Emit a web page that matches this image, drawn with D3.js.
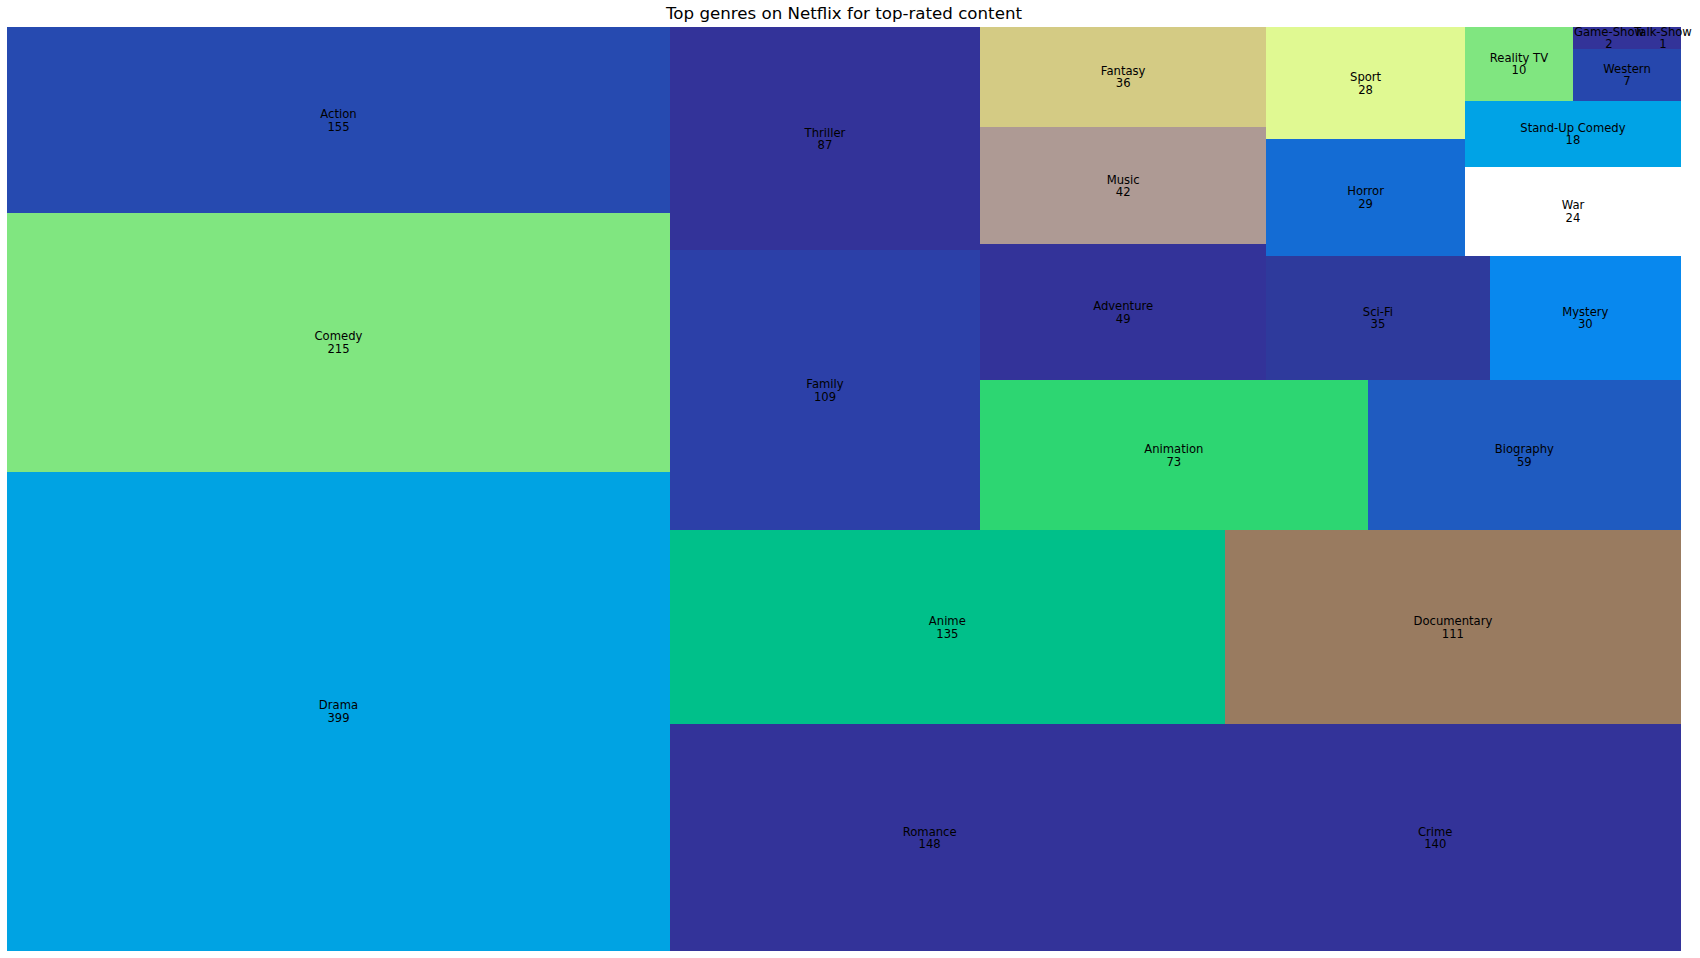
<!DOCTYPE html>
<html>
<head>
<meta charset="utf-8">
<script src="https://cdn.jsdelivr.net/npm/d3@7"></script>
<style>
  html, body { margin: 0; padding: 0; background: #fff; }
  svg { display: block; }
</style>
</head>
<body>
<svg id="chart" width="1700" height="958"></svg>
<script>
// ---- data ----
const genres = ["Drama", "Comedy", "Action", "Romance", "Crime", "Anime", "Documentary", "Family",
  "Thriller", "Animation", "Biography", "Adventure", "Music", "Fantasy", "Sci-Fi", "Mystery",
  "Horror", "Sport", "War", "Stand-Up Comedy", "Reality TV", "Western", "Game-Show", "Talk-Show"];
const counts = [399, 215, 155, 148, 140, 135, 111, 109, 87, 73, 59, 49, 42, 36, 35, 30, 29, 28, 24, 18, 10, 7, 2, 1];
const palette = ["#00a3e3", "#80e680", "#264ab0", "#333399", "#333399", "#00c08a", "#997b60", "#2c40a8",
  "#333399", "#2dd672", "#1f5bc0", "#333399", "#ae9a94", "#d4cb84", "#2e3a9c", "#0888ee",
  "#146cd4", "#e0f992", "#ffffff", "#00a3e6", "#80e680", "#2647ad", "#333399", "#333399"];
const chartTitle = "Top genres on Netflix for top-rated content";

// ---- squarify (same algorithm as python squarify) ----
function layoutrow(sizes, x, y, dx, dy) {
  const w = d3.sum(sizes) / dy; const r = [];
  for (const s of sizes) { r.push({x: x, y: y, dx: w, dy: s / w}); y += s / w; }
  return r;
}
function layoutcol(sizes, x, y, dx, dy) {
  const h = d3.sum(sizes) / dx; const r = [];
  for (const s of sizes) { r.push({x: x, y: y, dx: s / h, dy: h}); x += s / h; }
  return r;
}
function layoutRect(sizes, x, y, dx, dy) { return dx >= dy ? layoutrow(sizes, x, y, dx, dy) : layoutcol(sizes, x, y, dx, dy); }
function leftoverRect(sizes, x, y, dx, dy) {
  const a = d3.sum(sizes);
  if (dx >= dy) { const w = a / dy; return [x + w, y, dx - w, dy]; }
  const h = a / dx; return [x, y + h, dx, dy - h];
}
function worstRatio(sizes, x, y, dx, dy) {
  return d3.max(layoutRect(sizes, x, y, dx, dy), r => Math.max(r.dx / r.dy, r.dy / r.dx));
}
function squarify(sizes, x, y, dx, dy) {
  if (sizes.length === 0) return [];
  if (sizes.length === 1) return layoutRect(sizes, x, y, dx, dy);
  let i = 1;
  while (i < sizes.length && worstRatio(sizes.slice(0, i), x, y, dx, dy) >= worstRatio(sizes.slice(0, i + 1), x, y, dx, dy)) i++;
  const cur = sizes.slice(0, i), rem = sizes.slice(i);
  const [lx, ly, ldx, ldy] = leftoverRect(cur, x, y, dx, dy);
  return layoutRect(cur, x, y, dx, dy).concat(squarify(rem, lx, ly, ldx, ldy));
}

const totalCount = d3.sum(counts);
const normSizes = counts.map(c => c * 100 * 100 / totalCount);
const cells = squarify(normSizes, 0, 0, 100, 100);

// ---- scales ----
const plotLeft = 7, plotRight = 1681, plotTop = 27, plotBottom = 951;
const xS = d3.scaleLinear().domain([0, 100]).range([plotLeft, plotRight]);
const yS = d3.scaleLinear().domain([0, 100]).range([plotBottom, plotTop]);

const svg = d3.select("#chart");
const g = svg.append("g");

g.selectAll("rect.cell").data(cells).join("rect")
  .attr("class", "cell")
  .attr("x", d => xS(d.x))
  .attr("y", d => yS(d.y + d.dy))
  .attr("width", d => xS(d.x + d.dx) - xS(d.x))
  .attr("height", d => yS(d.y) - yS(d.y + d.dy))
  .attr("fill", (d, i) => palette[i])
  .attr("shape-rendering", "crispEdges");

const lbl = g.selectAll("text.lbl").data(cells).join("text")
  .attr("class", "lbl")
  .attr("text-anchor", "middle")
  .attr("font-family", "DejaVu Sans")
  .attr("font-size", "11.6px")
  .attr("fill", "#000")
  .attr("transform", d => `translate(${xS(d.x + d.dx / 2)},${yS(d.y + d.dy / 2)})`);
lbl.append("tspan").attr("x", 0).attr("y", -2).text((d, i) => genres[i]);
lbl.append("tspan").attr("x", 0).attr("y", 10.4).text((d, i) => counts[i]);

svg.append("text")
  .attr("x", (plotLeft + plotRight) / 2)
  .attr("y", 19)
  .attr("text-anchor", "middle")
  .attr("font-family", "DejaVu Sans")
  .attr("font-size", "16.67px")
  .attr("fill", "#000")
  .text(chartTitle);
</script>
</body>
</html>
